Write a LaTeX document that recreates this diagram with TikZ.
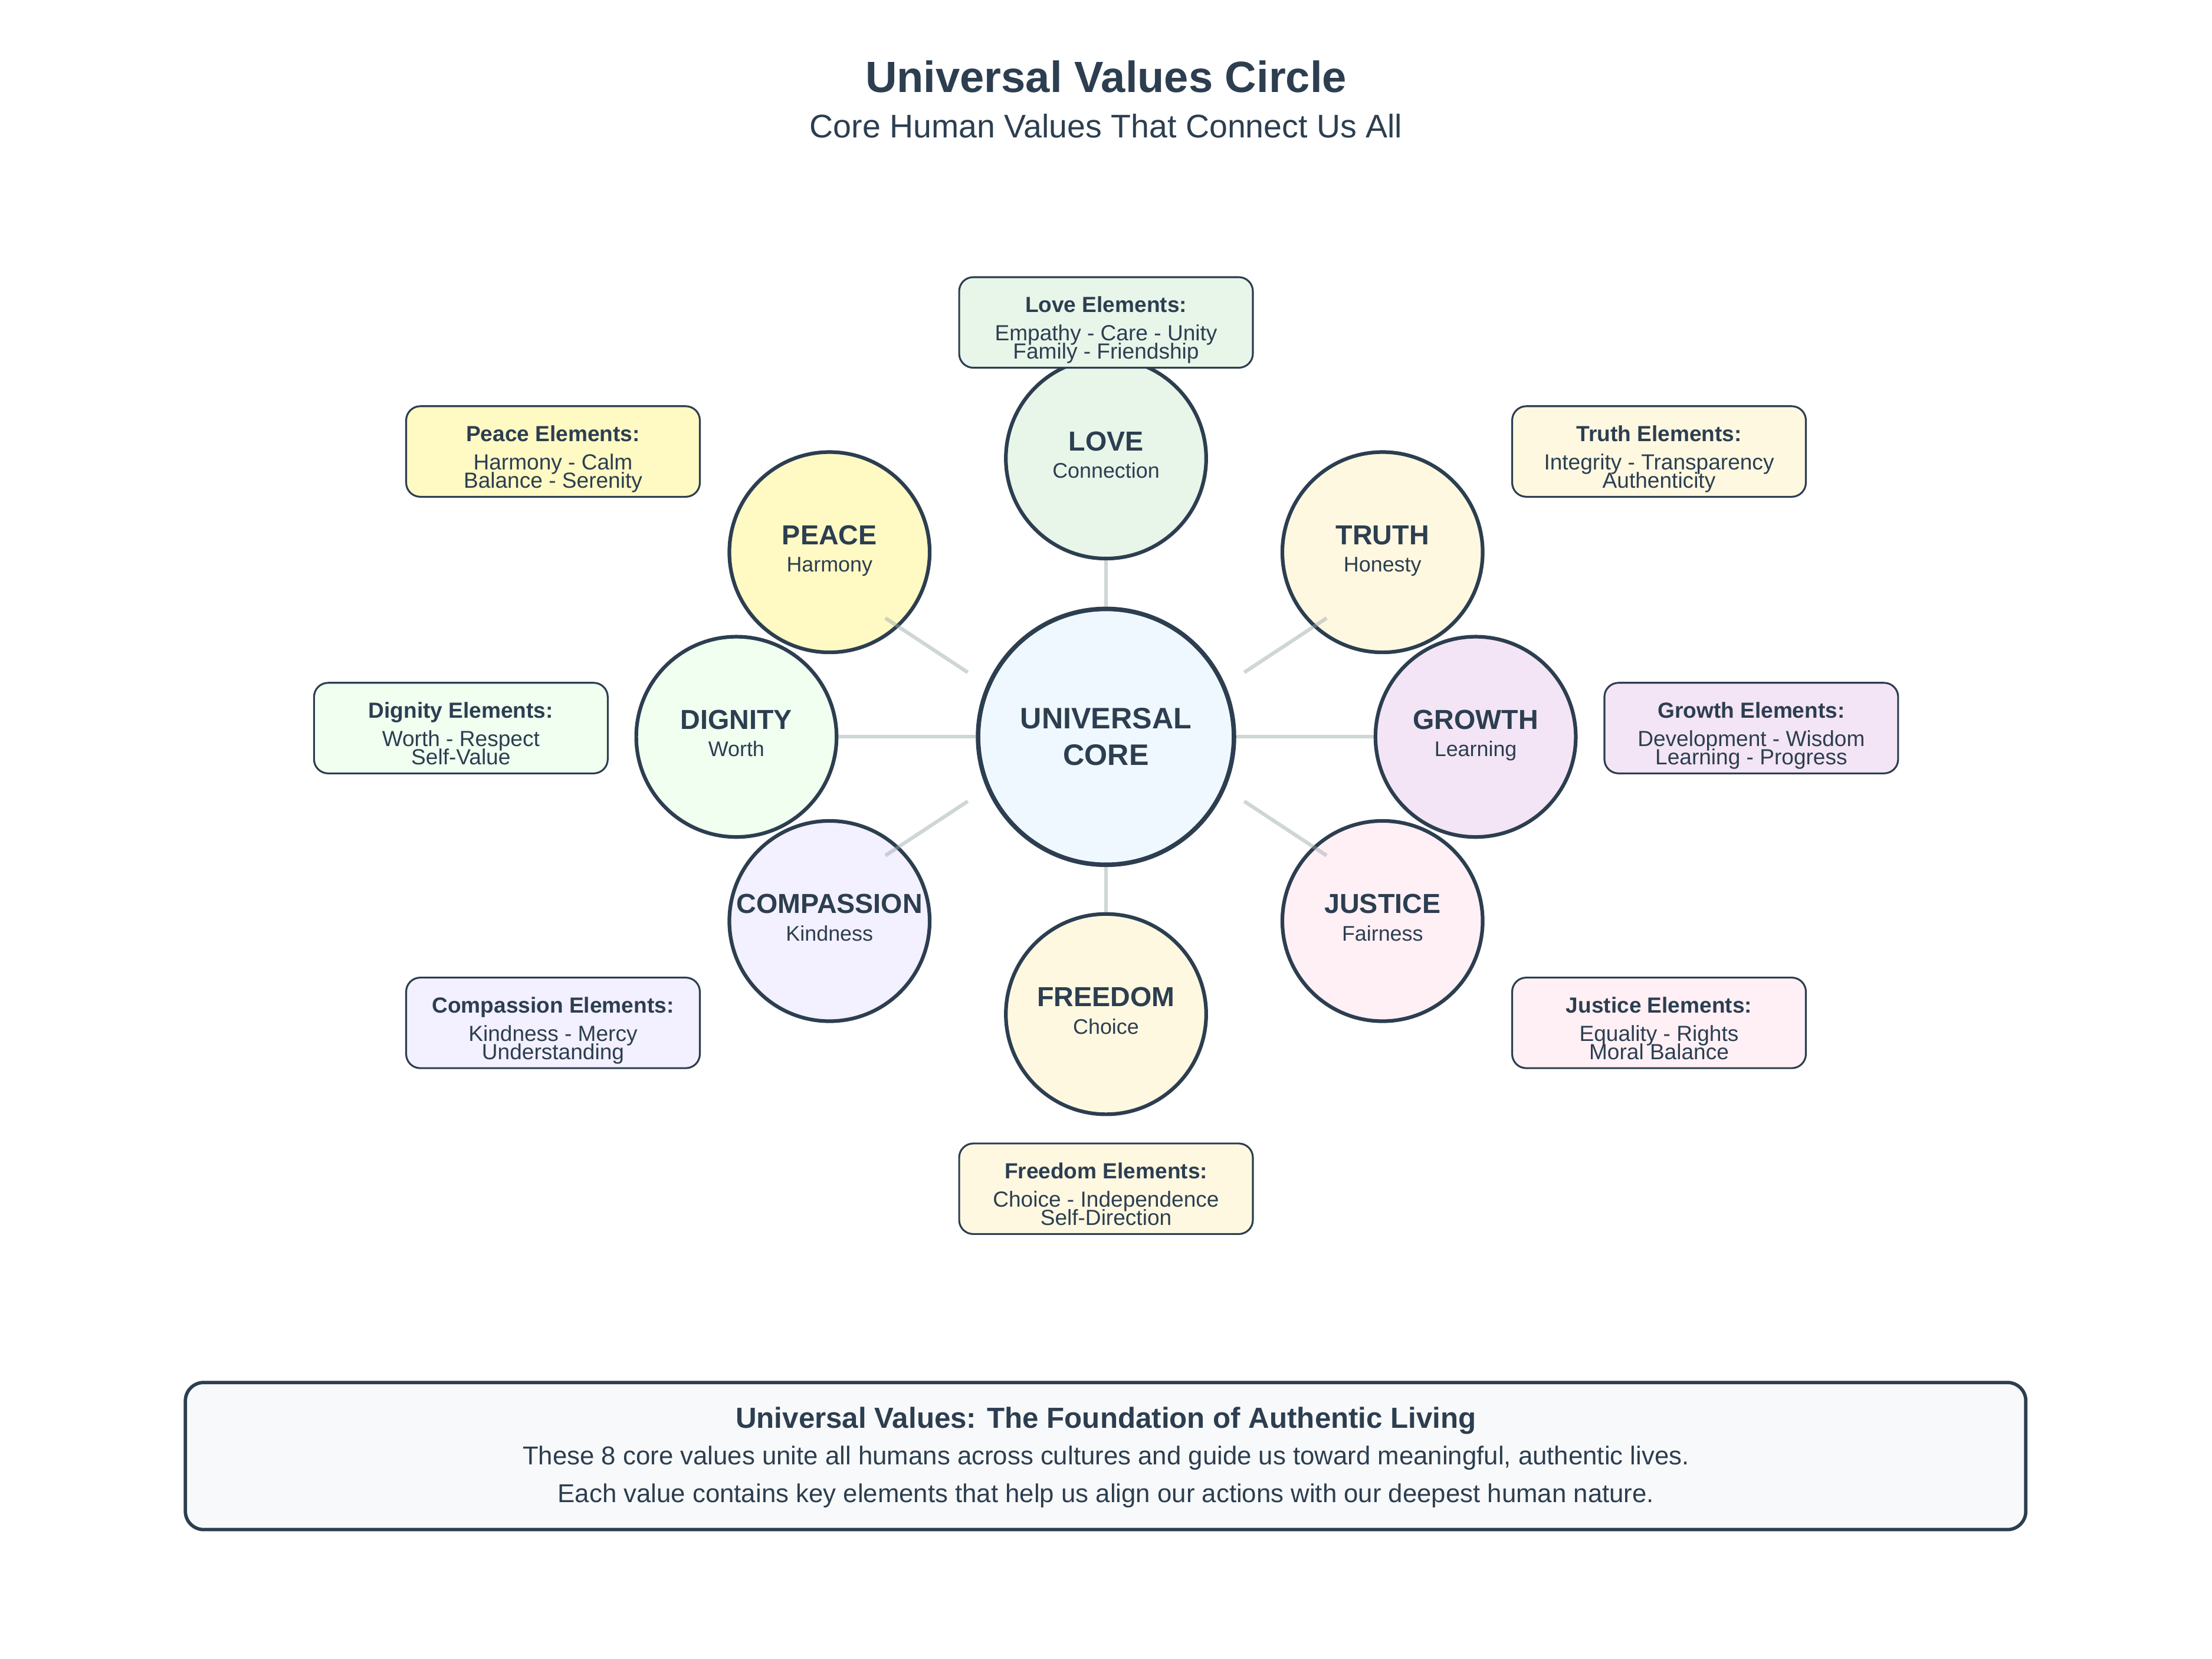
\documentclass[tikz,border=0pt]{standalone}
\usepackage{fontspec}
\setmainfont{Liberation Sans}
\usetikzlibrary{calc}

\definecolor{ink}{HTML}{2C3E50}
\definecolor{linkgray}{HTML}{95A5A6}
\definecolor{corefill}{HTML}{F0F8FF}
\definecolor{lovefill}{HTML}{E8F5E9}
\definecolor{peacefill}{HTML}{FFF9C4}
\definecolor{truthfill}{HTML}{FFF8E1}
\definecolor{dignityfill}{HTML}{F0FFF0}
\definecolor{growthfill}{HTML}{F3E5F5}
\definecolor{compassionfill}{HTML}{F3F0FF}
\definecolor{justicefill}{HTML}{FFF0F5}
\definecolor{freedomfill}{HTML}{FFF8E1}
\definecolor{summaryfill}{HTML}{F8F9FA}

\newcommand\setfs[1]{\fontsize{#1}{#1}\selectfont}

% value circle: name, x, y, fill, title, subtitle
\newcommand\valuecircle[6]{%
  \node[value,fill=#4] (#1) at (#2,#3) {};
  \node[vtitle] (#1-t) at ([yshift=5.5pt]#1.center) {#5};
  \node[vsub] (#1-s) at ([yshift=-14pt]#1.center) {#6};
}
% element box: name, x, y, fill, title, first line, second line
\newcommand\elements[7]{%
  \node[elembox,fill=#4] (#1) at (#2,#3) {};
  \node[etitle] (#1-t) at ([yshift=7pt]#1.center) {#5};
  \node[eline] (#1-a) at ([yshift=-13pt]#1.center) {#6};
  \node[eline] (#1-b) at ([yshift=-26pt]#1.center) {#7};
}

\begin{document}
\begin{tikzpicture}[x=1pt,y=-1pt,
  value/.style={circle,draw=ink,line width=2.6pt,minimum size=142pt,inner sep=0pt},
  hub/.style={circle,draw=ink,line width=3.2pt,minimum size=181.4pt,inner sep=0pt,fill=corefill},
  elembox/.style={draw=ink,line width=1.3pt,rounded corners=10pt,minimum width=208.2pt,minimum height=64.2pt,inner sep=0pt},
  summary/.style={draw=ink,line width=2.4pt,fill=summaryfill,rounded corners=13pt,minimum width=1304.6pt,minimum height=104.3pt,inner sep=0pt},
  link/.style={draw=linkgray,line width=2.6pt,draw opacity=0.45},
  txt/.style={anchor=base,inner sep=0pt,outer sep=0pt,text=ink},
  vtitle/.style={txt,font=\setfs{19.5}\bfseries},
  vsub/.style={txt,font=\setfs{15}},
  etitle/.style={txt,font=\setfs{15.5}\bfseries},
  eline/.style={txt,font=\setfs{15.5}},
]
\useasboundingbox[fill=white] (0,0) rectangle (1568,1176);

% heading
\node[txt,font=\setfs{31}\bfseries] (title) at (784,65.5) {Universal Values Circle};
\node[txt,font=\setfs{23.2}] (subtitle) at (784,97.8) {Core Human Values That Connect Us All};

% the eight values around the core
\valuecircle{love}{784}{325}{lovefill}{LOVE}{Connection}
\valuecircle{truth}{980}{391.5}{truthfill}{TRUTH}{Honesty}
\valuecircle{growth}{1046}{522.4}{growthfill}{GROWTH}{Learning}
\valuecircle{justice}{980}{653}{justicefill}{JUSTICE}{Fairness}
\valuecircle{freedom}{784}{719}{freedomfill}{FREEDOM}{Choice}
\valuecircle{compassion}{588}{653}{compassionfill}{COMPASSION}{Kindness}
\valuecircle{dignity}{522}{522.4}{dignityfill}{DIGNITY}{Worth}
\valuecircle{peace}{588}{391.5}{peacefill}{PEACE}{Harmony}

% the core
\node[hub] (core) at (784,522.4) {};
\node[txt,font=\setfs{21}\bfseries] (core-a) at ([yshift=5.9pt]core.center) {UNIVERSAL};
\node[txt,font=\setfs{21}\bfseries] (core-b) at ([yshift=-20.2pt]core.center) {CORE};

% spokes
\coordinate (peace-in) at (686,476.7);
\coordinate (peace-out) at (627.6,438.2);
\coordinate (truth-in) at (882,476.7);
\coordinate (truth-out) at (940.4,438.2);
\coordinate (compassion-in) at (686,568.1);
\coordinate (compassion-out) at (627.6,606.6);
\coordinate (justice-in) at (882,568.1);
\coordinate (justice-out) at (940.4,606.6);

\draw[link] (love) -- (core);
\draw[link] (freedom) -- (core);
\draw[link] (dignity) -- (core);
\draw[link] (growth) -- (core);
\draw[link] (peace-out) -- (peace-in);
\draw[link] (truth-out) -- (truth-in);
\draw[link] (compassion-out) -- (compassion-in);
\draw[link] (justice-out) -- (justice-in);

% element boxes
\elements{love-el}{784}{228.6}{lovefill}{Love Elements:}{Empathy - Care - Unity}{Family - Friendship}
\elements{peace-el}{392}{320.1}{peacefill}{Peace Elements:}{Harmony - Calm}{Balance - Serenity}
\elements{truth-el}{1176}{320.1}{truthfill}{Truth Elements:}{Integrity - Transparency}{Authenticity}
\elements{dignity-el}{326.7}{516.2}{dignityfill}{Dignity Elements:}{Worth - Respect}{Self-Value}
\elements{growth-el}{1241.4}{516.2}{growthfill}{Growth Elements:}{Development - Wisdom}{Learning - Progress}
\elements{compassion-el}{392}{725.2}{compassionfill}{Compassion Elements:}{Kindness - Mercy}{Understanding}
\elements{justice-el}{1176}{725.2}{justicefill}{Justice Elements:}{Equality - Rights}{Moral Balance}
\elements{freedom-el}{784}{842.8}{freedomfill}{Freedom Elements:}{Choice - Independence}{Self-Direction}

% summary panel
\node[summary] (summary) at (783.7,1032.3) {};
\node[txt,font=\setfs{20.6}\bfseries] (summary-t) at (784,1012.6) {Universal Values: The Foundation of Authentic Living};
\node[txt,font=\setfs{18.3}] (summary-a) at (784,1038.6) {These 8 core values unite all humans across cultures and guide us toward meaningful, authentic lives.};
\node[txt,font=\setfs{18.3}] (summary-b) at (784,1065.1) {Each value contains key elements that help us align our actions with our deepest human nature.};
\end{tikzpicture}
\end{document}
